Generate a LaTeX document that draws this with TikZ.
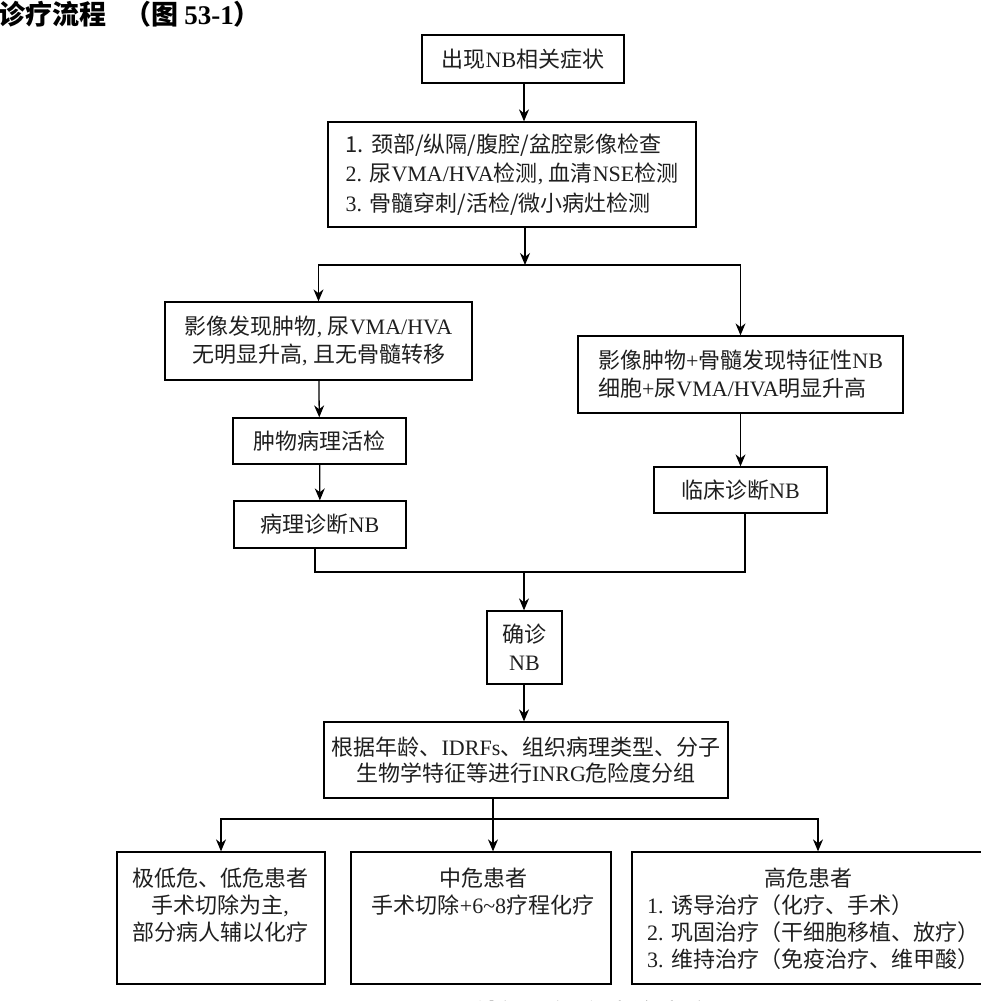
\documentclass[tikz,border=0pt]{standalone}
\usepackage{fontspec}
\setmainfont{Liberation Serif}
\newfontfamily\cjk{Noto Sans CJK SC}
\usetikzlibrary{arrows.meta,positioning}
\newcommand\lt[1]{{\rmfamily #1}}
\tikzset{
  box/.style={draw, line width=1.3pt, inner sep=0pt, text=black!88,
    font=\cjk\fontsize{22}{28}\selectfont},
  txt/.style={inner sep=0pt, text=black!88, font=\cjk\fontsize{22}{27}\selectfont},
  arr/.style={line width=1.3pt, -{Stealth[length=12pt,width=10pt]}},
  ln/.style={line width=1.3pt},
}
\begin{document}
\begin{tikzpicture}[x=1pt,y=-1pt]
\useasboundingbox (0,0) rectangle (981,1001);
\fill[white] (0,0) rectangle (981,1001);
\clip (0,0) rectangle (981,1001);

% title
\node[anchor=base west, inner sep=0pt, font=\cjk\bfseries\fontsize{27}{30}\selectfont] (title) at (-2,24)
  {诊疗流程\hspace{18pt}（图 \lt{\bfseries 53-1}）};

% boxes
\node[box, minimum width=202pt, minimum height=48pt] (top) at (523,59) {出现\lt{NB}相关症状};
\node[box, minimum width=368pt, minimum height=105pt, align=left] (b2) at (512,174.5)
  {1.\lt{ }颈部/纵隔/腹腔/盆腔影像检查\\[1.5pt]
   \lt{2. }尿\lt{VMA/HVA}检测\lt{, }血清\lt{NSE}检测\\[1.5pt]
   \lt{3. }骨髓穿刺/活检/微小病灶检测};
\node[box, minimum width=307pt, minimum height=78pt, align=center] (L1) at (318.5,341)
  {影像发现肿物\lt{, }尿\lt{VMA/HVA}\\无明显升高\lt{, }且无骨髓转移};
\node[box, minimum width=325pt, minimum height=77pt, align=left] (R1) at (740.5,374.5)
  {影像肿物\lt{+}骨髓发现特征性\lt{NB}\\细胞\lt{+}尿\lt{VMA/HVA}明显升高};
\node[box, minimum width=173pt, minimum height=46pt] (L2) at (319.5,441) {肿物病理活检};
\node[box, minimum width=172pt, minimum height=47pt] (L3) at (320,524.5) {病理诊断\lt{NB}};
\node[box, minimum width=173pt, minimum height=46pt] (R2) at (740.5,490) {临床诊断\lt{NB}};
\node[box, minimum width=75pt, minimum height=73pt, align=center] (C) at (524.5,647.5) {确诊\\\lt{NB}};
\node[box, minimum width=404pt, minimum height=76pt, align=center, font=\cjk\fontsize{22}{26}\selectfont] (G) at (526,760)
  {根据年龄、\lt{IDRFs}、组织病理类型、分子\\生物学特征等进行\lt{INRG}危险度分组};

\node[box, minimum width=208pt, minimum height=132pt] (B1) at (221,918) {};
\node[box, minimum width=260pt, minimum height=132pt] (B2) at (481,918) {};
\node[box, minimum width=372pt, minimum height=132pt] (B3) at (818,918) {};

\node[txt, anchor=north, align=center] (T1) at (220,868)
  {极低危、低危患者\\手术切除为主\lt{,}\\部分病人辅以化疗};
\node[txt, anchor=north, align=center] (T2) at (483,868)
  {中危患者\\手术切除\lt{+6\textasciitilde 8}疗程化疗};
\node[txt, anchor=north west, align=left] (T3) at (647,868)
  {\makebox[322pt]{高危患者}\\
   \lt{1. }诱导治疗（化疗、手术）\\
   \lt{2. }巩固治疗（干细胞移植、放疗）\\
   \lt{3. }维持治疗（免疫治疗、维甲酸）};

% caption (cut by the lower edge)
\node[anchor=base west, inner sep=0pt, text=black!88, font=\cjk\bfseries\fontsize{26}{30}\selectfont] (cap) at (381,1023)
  {图 \lt{\bfseries 53-1}\hspace{14pt}神经母细胞瘤诊疗流程};

% connectors
\coordinate (s1) at (525,265);
\coordinate (j) at (524,572);
\coordinate (s2) at (493,819);
\coordinate (s3) at (818,819);

\draw[arr] (top.south -| 524,0) -- (b2.north -| 524,0);
\draw[arr] (b2.south -| s1) -- (s1);
\draw[arr] (s1) -| (L1.north);
\draw[arr] (s1) -| (R1.north);
\draw[arr] (L1) -- (L2);
\draw[arr] (L2) -- (L3);
\draw[arr] (R1) -- (R2);
\draw[ln] (L3.south -| 315,0) |- (j);
\draw[ln] (R2.south -| 745,0) |- (j);
\draw[arr] (j) -- (C.north -| j);
\draw[arr] (C.south -| j) -- (G.north -| j);
\draw[ln] (G.south -| s2) -- (s2);
\draw[arr] (s2) -- (B2.north -| s2);
\draw[arr] (s2) -| (B1.north);
\draw[arr] (s2) -- (s3) -- (B3.north -| s3);
\end{tikzpicture}
\end{document}
